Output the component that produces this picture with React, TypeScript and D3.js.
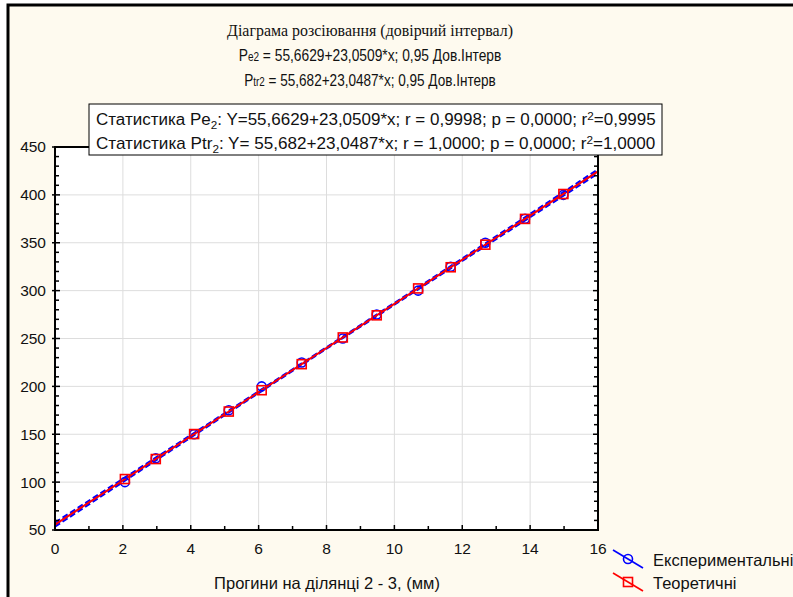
import React, { useLayoutEffect, useRef, useState } from 'react';
import * as d3 from 'd3';

// Statistica-style scatter: experimental vs theoretical load over deflection,
// with fitted lines and a narrow confidence band for the experimental fit.

const W = 793;
const H = 597;

const deflection = [2.06, 2.97, 4.1, 5.12, 6.09, 7.27, 8.48, 9.48, 10.7, 11.66, 12.68, 13.85, 14.98];
const pExperimental = [100, 125, 150, 175, 200, 225, 250, 275, 300, 325, 350, 375, 400];
const pTheoretical = [103.2, 124.1, 150.2, 173.7, 196.0, 223.2, 251.1, 274.2, 302.3, 324.4, 348.0, 374.9, 400.9];

// fitted coefficients as printed on the chart
const fitExp = { a: 55.6629, b: 23.0509 };
const fitTheor = { a: 55.682, b: 23.0487 };

const bandX = [0, 4, 8, 12, 16];
const bandHalf = [2.2, 1.3, 0.8, 1.3, 2.2];

const xDomain: [number, number] = [0, 16];
const yDomain: [number, number] = [50, 450];

const FONT = "'Liberation Sans', Arial, sans-serif";
const SERIF = "'Liberation Serif', 'Times New Roman', serif";
const BG = '#fefaef';

// squeezes a text horizontally to a target width (the original uses narrow fonts)
function FitText({
  x,
  y,
  width,
  anchor = 'start',
  children,
  ...rest
}: {
  x: number;
  y: number;
  width: number;
  anchor?: 'start' | 'middle';
  children: React.ReactNode;
  [k: string]: unknown;
}) {
  const ref = useRef<SVGTextElement>(null);
  const [k, setK] = useState(1);
  useLayoutEffect(() => {
    if (!ref.current) return;
    const w = ref.current.getBBox().width;
    if (w > 0) setK(width / w);
  }, [width]);
  return (
    <g transform={`translate(${x},${y}) scale(${k},1)`}>
      <text ref={ref} x={0} y={0} dy="0.35em" textAnchor={anchor} {...rest}>
        {children}
      </text>
    </g>
  );
}

export default function App() {
  const x = d3.scaleLinear().domain(xDomain).range([55, 598]);
  const y = d3.scaleLinear().domain(yDomain).range([530, 147]);

  const xMajor = x.ticks(8);
  const xMinor = d3.range(0, 17, 1).filter((v) => v % 2 !== 0);
  const yMajor = y.ticks(8);
  const yMinor = d3.range(50, 451, 10).filter((v) => v % 50 !== 0);

  const line = d3
    .line<[number, number]>()
    .x((d) => x(d[0]))
    .y((d) => y(d[1]));
  const curve = d3
    .line<[number, number]>()
    .x((d) => x(d[0]))
    .y((d) => y(d[1]))
    .curve(d3.curveMonotoneX);

  const fitLine = (f: { a: number; b: number }) =>
    line(xDomain.map((v) => [v, f.a + f.b * v] as [number, number])) ?? '';
  const band = (sign: number) =>
    curve(bandX.map((v, i) => [v, fitExp.a + fitExp.b * v + sign * bandHalf[i]] as [number, number])) ?? '';

  const [x0, x1] = x.range();
  const [yb, yt] = y.range();

  return (
    <svg
      width={W}
      height={H}
      style={{ position: 'absolute', left: 0, top: 0, background: '#fff' }}
      fontFamily={FONT}
    >
      <rect x={8} y={5} width={W + 20} height={H + 20} fill={BG} stroke="#000" strokeWidth={3} />

      {/* titles */}
      <g fill="#111">
        <FitText x={370} y={30} width={286} anchor="middle" fontFamily={SERIF} fontSize={17}>
          Діаграма розсіювання (довірчий інтервал)
        </FitText>
        <FitText x={370} y={55} width={263} anchor="middle" fontSize={16.5}>
          P<tspan fontSize={12}>e2</tspan> = 55,6629+23,0509*x; 0,95 Дов.Інтерв
        </FitText>
        <FitText x={370} y={80} width={252} anchor="middle" fontSize={16.5}>
          P<tspan fontSize={12}>tr2</tspan> = 55,682+23,0487*x; 0,95 Дов.Інтерв
        </FitText>
      </g>

      {/* plot area */}
      <rect x={x0} y={yt} width={x1 - x0} height={yb - yt} fill="#fff" />
      <g stroke="#dddddd" strokeWidth={1}>
        {xMajor.slice(1, -1).map((v) => (
          <line key={`gx${v}`} x1={x(v)} x2={x(v)} y1={yt} y2={yb} />
        ))}
        {yMajor.slice(1, -1).map((v) => (
          <line key={`gy${v}`} x1={x0} x2={x1} y1={y(v)} y2={y(v)} />
        ))}
      </g>

      {/* fits */}
      <g fill="none" strokeWidth={2}>
        <path d={band(1)} stroke="#0000ff" strokeDasharray="6 3" />
        <path d={band(-1)} stroke="#0000ff" strokeDasharray="6 3" />
        <path d={fitLine(fitExp)} stroke="#0000ff" strokeDasharray="6 3" />
        <path d={fitLine(fitTheor)} stroke="#ff0000" />
      </g>

      {/* points */}
      <g fill="none" strokeWidth={1.6}>
        {deflection.map((v, i) => (
          <circle key={`e${i}`} cx={x(v)} cy={y(pExperimental[i])} r={4.5} stroke="#0000ff" />
        ))}
        {deflection.map((v, i) => (
          <rect
            key={`t${i}`}
            x={x(v) - 4.5}
            y={y(pTheoretical[i]) - 4.5}
            width={9}
            height={9}
            stroke="#ff0000"
          />
        ))}
      </g>

      {/* frame and ticks */}
      <g stroke="#000">
        <rect x={x0} y={yt} width={x1 - x0} height={yb - yt} fill="none" strokeWidth={2} />
        {xMajor.map((v) => (
          <line key={`tx${v}`} x1={x(v)} x2={x(v)} y1={yb} y2={yb - 5} strokeWidth={1.5} />
        ))}
        {xMinor.map((v) => (
          <line key={`mx${v}`} x1={x(v)} x2={x(v)} y1={yb} y2={yb - 4} strokeWidth={1.5} />
        ))}
        {yMajor.map((v) => (
          <g key={`ty${v}`} strokeWidth={1.5}>
            <line x1={x0 - 3} x2={x0 + 5} y1={y(v)} y2={y(v)} />
            <line x1={x1} x2={x1 - 5} y1={y(v)} y2={y(v)} />
          </g>
        ))}
        {yMinor.map((v) => (
          <g key={`my${v}`} strokeWidth={1.5}>
            <line x1={x0} x2={x0 + 4} y1={y(v)} y2={y(v)} />
            <line x1={x1} x2={x1 - 4} y1={y(v)} y2={y(v)} />
          </g>
        ))}
      </g>

      {/* tick labels */}
      <g fontSize={15.5} fill="#111">
        {yMajor.map((v) => (
          <text key={`ly${v}`} x={46} y={y(v)} dy="0.35em" textAnchor="end">
            {v}
          </text>
        ))}
        {xMajor.map((v) => (
          <text key={`lx${v}`} x={x(v)} y={549} dy="0.35em" textAnchor="middle">
            {v}
          </text>
        ))}
        <text x={327} y={583} dy="0.35em" textAnchor="middle" fontSize={16.5}>
          Прогини на ділянці 2 - 3, (мм)
        </text>
      </g>

      {/* statistics box */}
      <rect x={89} y={104} width={573} height={51} fill="#fff" stroke="#000" strokeWidth={1} />
      <g fontSize={16} fill="#111" style={{ whiteSpace: 'pre' }}>
        <FitText x={96} y={119} width={560}>
          Статистика Pe<tspan fontSize={11} dy={4}>2</tspan>
          <tspan dy={-4}>: Y=55,6629+23,0509*x;  r = 0,9998; p = 0,0000; r</tspan>
          <tspan fontSize={11} dy={-5}>2</tspan>
          <tspan dy={5}>=0,9995</tspan>
        </FitText>
        <FitText x={96} y={143} width={560}>
          Статистика Ptr<tspan fontSize={11} dy={4}>2</tspan>
          <tspan dy={-4}>: Y= 55,682+23,0487*x;  r = 1,0000; p = 0,0000; r</tspan>
          <tspan fontSize={11} dy={-5}>2</tspan>
          <tspan dy={5}>=1,0000</tspan>
        </FitText>
      </g>

      {/* legend */}
      <g strokeWidth={1.6} fill="none">
        <line x1={613} y1={550} x2={643} y2={568} stroke="#0000ff" />
        <circle cx={628} cy={559} r={4.5} stroke="#0000ff" />
        <line x1={613} y1={573} x2={643} y2={591} stroke="#ff0000" />
        <rect x={623.5} y={577.5} width={9} height={9} stroke="#ff0000" />
      </g>
      <g fontSize={16.5} fill="#111">
        <text x={653} y={560} dy="0.35em">Експериментальні</text>
        <text x={653} y={583} dy="0.35em">Теоретичні</text>
      </g>
    </svg>
  );
}
